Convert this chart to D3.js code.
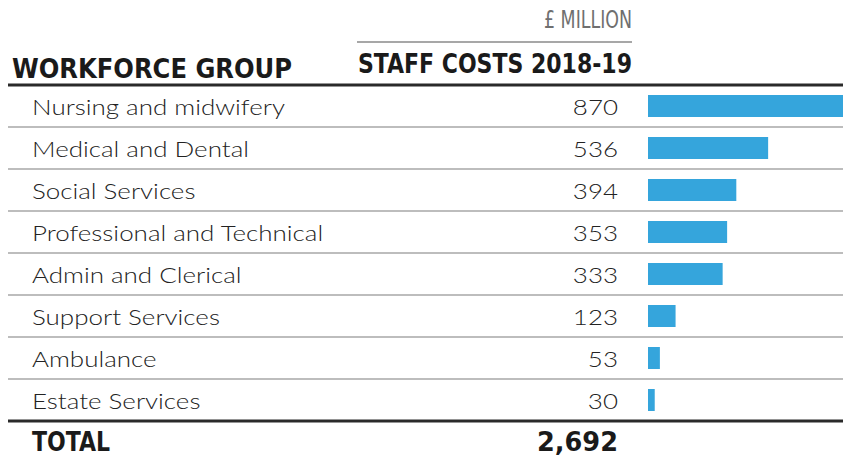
<!DOCTYPE html>
<html>
<head>
<meta charset="utf-8">
<script src="https://cdn.jsdelivr.net/npm/d3@7"></script>
<style>
  html, body { margin: 0; padding: 0; background: #fff; }
  svg { display: block; }
</style>
</head>
<body>
<svg id="chart" width="843" height="459"></svg>
<script>
const categories = ["Nursing and midwifery", "Medical and Dental", "Social Services", "Professional and Technical", "Admin and Clerical", "Support Services", "Ambulance", "Estate Services"];
const staffCosts = [870, 536, 394, 353, 333, 123, 53, 30];
const totalLabel = "TOTAL";
const totalValue = 2692;
const unitLabel = "£ MILLION";
const columnHeaders = ["WORKFORCE GROUP", "STAFF COSTS 2018-19"];

const svg = d3.select("#chart");
const W = 843;
const rowTop = 85, rowH = 42;
const valueRight = 618;
const barX0 = 648;
const widen = 1.18; // body font is wider than Lato

const y = d3.scaleBand().domain(categories).range([rowTop, rowTop + rowH * categories.length]).paddingInner(0).paddingOuter(0);
const x = d3.scaleLinear().domain([0, d3.max(staffCosts)]).range([barX0, W]);

const regFont = "Lato, 'Noto Sans', sans-serif";
const boldFont = "'DejaVu Sans Condensed', 'DejaVu Sans', sans-serif";
const condFont = "'Liberation Sans Narrow', 'DejaVu Sans Condensed', sans-serif";

function stretch(sel) {
  sel.each(function () {
    const w = this.getComputedTextLength();
    d3.select(this).attr("textLength", w * widen).attr("lengthAdjust", "spacingAndGlyphs");
  });
}

// unit label and gray rule
svg.append("text").attr("x", 632).attr("y", 28).attr("text-anchor", "end")
  .attr("font-family", condFont).attr("font-size", 24).attr("fill", "#6f6f6f")
  .attr("textLength", 88).attr("lengthAdjust", "spacingAndGlyphs")
  .text(unitLabel);
svg.append("line").attr("x1", 357).attr("x2", 632).attr("y1", 42).attr("y2", 42)
  .attr("stroke", "#8a8a8a").attr("stroke-width", 1.5);

// headers
svg.append("text").attr("x", 12).attr("y", 78)
  .attr("font-family", boldFont).attr("font-weight", "bold").attr("font-size", 27).attr("fill", "#1a1a1a")
  .attr("textLength", 280).attr("lengthAdjust", "spacingAndGlyphs")
  .text(columnHeaders[0]);
svg.append("text").attr("x", 632).attr("y", 73).attr("text-anchor", "end")
  .attr("font-family", boldFont).attr("font-weight", "bold").attr("font-size", 27).attr("fill", "#1a1a1a")
  .attr("textLength", 274).attr("lengthAdjust", "spacingAndGlyphs")
  .text(columnHeaders[1]);

// row separators
const seps = categories.slice(0, -1).map(c => y(c) + y.bandwidth());
svg.selectAll("line.sep").data(seps).join("line").attr("class", "sep")
  .attr("x1", 8).attr("x2", W).attr("y1", d => d).attr("y2", d => d)
  .attr("stroke", "#bdbdbd").attr("stroke-width", 2);

// thick rules
[rowTop, rowTop + rowH * categories.length].forEach(v => {
  svg.append("line").attr("x1", 8).attr("x2", W).attr("y1", v).attr("y2", v)
    .attr("stroke", "#2a2a2a").attr("stroke-width", 3);
});

// rows
const rows = svg.selectAll("g.row").data(categories.map((c, i) => ({c, v: staffCosts[i]}))).join("g").attr("class", "row");
rows.append("text").attr("x", 32).attr("y", d => y(d.c) + y.bandwidth() / 2 + 9)
  .attr("font-family", regFont).attr("font-weight", 300).attr("font-size", 22).attr("fill", "#222")
  .text(d => d.c).call(stretch);
rows.append("text").attr("x", valueRight).attr("y", d => y(d.c) + y.bandwidth() / 2 + 9).attr("text-anchor", "end")
  .attr("font-family", regFont).attr("font-weight", 300).attr("font-size", 22).attr("fill", "#222")
  .text(d => d3.format(",")(d.v)).call(stretch);
rows.append("rect").attr("x", barX0).attr("y", d => y(d.c) + 10).attr("height", 22)
  .attr("width", d => x(d.v) - barX0).attr("fill", "#35a5dc");

// total
const totalY = rowTop + rowH * categories.length + 30;
svg.append("text").attr("x", 32).attr("y", totalY)
  .attr("font-family", boldFont).attr("font-weight", "bold").attr("font-size", 27).attr("fill", "#1a1a1a")
  .attr("textLength", 78).attr("lengthAdjust", "spacingAndGlyphs")
  .text(totalLabel);
svg.append("text").attr("x", valueRight).attr("y", totalY).attr("text-anchor", "end")
  .attr("font-family", boldFont).attr("font-weight", "bold").attr("font-size", 27).attr("fill", "#1a1a1a")
  .attr("textLength", 81).attr("lengthAdjust", "spacingAndGlyphs")
  .text(d3.format(",")(totalValue));
</script>
</body>
</html>
